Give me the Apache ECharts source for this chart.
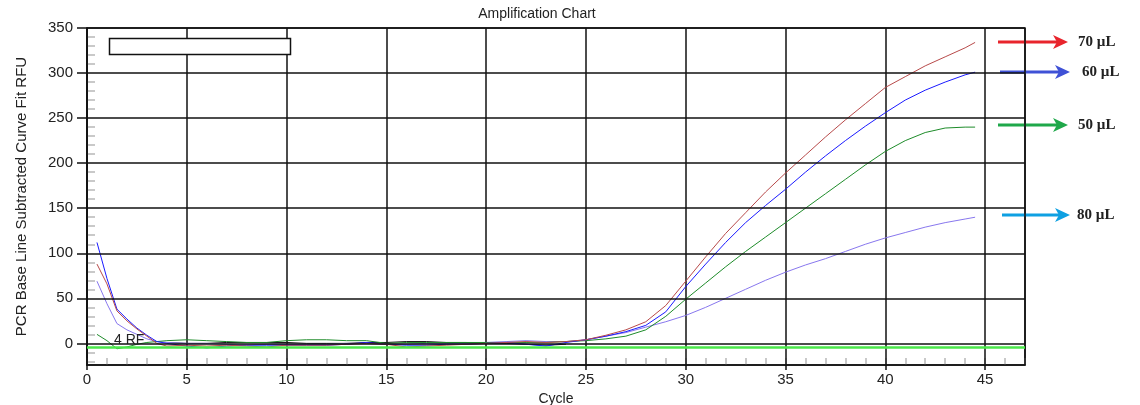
<!DOCTYPE html>
<html>
<head>
<meta charset="utf-8">
<script src="https://cdn.jsdelivr.net/npm/echarts@6/dist/echarts.min.js"></script>
<style>
  html, body { margin: 0; padding: 0; background: #fff; }
  #chart { width: 1140px; height: 405px; }
</style>
</head>
<body>
<div id="chart"></div>
<script>
// cycle positions of the sampled points
const cycles = [0.5, 1, 1.5, 2, 2.5, 3, 3.5,
  4, 5, 6, 7, 8, 9, 10, 11, 12, 13, 14, 15, 16, 17, 18, 19, 20, 21, 22, 23, 24,
  25, 26, 27, 28, 29, 30, 31, 32, 33, 34, 35, 36, 37, 38, 39, 40, 41, 42, 43, 44, 44.5]

const rfu70 = [88, 66, 36, 25, 16, 8, 0,
  -3, -2, -3, -2, -3, -4, -2, -2, -2, -1, 0, -1, -4, -3, -2, -1, 0, 1, 2, 1, 2,
  4, 9, 15, 24, 42, 69, 96, 122, 145, 168, 189, 209, 229, 248, 266, 284, 296, 308, 318, 328, 334]

const rfu60 = [112, 72, 38, 27, 17, 9, 2,
  0, -3, -5, -3, -2, -2, -2, -2, -2, -1, 1, -1, -2, -2, -1, -1, 0, 1, -1, -3, 1,
  4, 8, 13, 20, 35, 63, 88, 112, 134, 153, 171, 190, 208, 225, 241, 256, 270, 281, 290, 298, 301]

const rfu50 = [10, 3, -6, -4, -1, 1, 2,
  3, 4, 3, 2, 1, 1, 3, 4, 4, 3, 3, 0, 1, 1, 1, 1, 1, 1, 1, 1, 2,
  3, 5, 8, 15, 30, 49, 67, 85, 102, 118, 134, 150, 166, 182, 198, 213, 225, 234, 239, 240, 240]

const rfu80 = [69, 44, 22, 15, 10, 5, 2,
  1, 0, 0, -1, -2, -1, -1, -1, -1, 0, 0, -1, -1, 0, 0, 0, 1, 2, 3, 2, 2,
  4, 8, 12, 18, 24, 31, 40, 50, 60, 70, 79, 87, 94, 102, 110, 117, 123, 129, 134, 138, 140]

const rfuNtc = [null, null, null, null, null, null, null,
  1, 0, 0, 1, 1, 1, 1, 0, 0, 0, 1, 1, 2, 2, 1, 1, 0, 0, -1, -2, -1,
  null, null, null, null, null, null, null, null, null, null, null, null, null, null, null, null, null, null, null, null, null]

const threshold = -4

const volumeLabels = ['70 µL', '60 µL', '50 µL', '80 µL']
const arrowColors = ['#e8242c', '#3f51d6', '#1fa84a', '#0ea0e2']

// axis range and tick values
const yMin = -24
const yMax = 350
const yMajor = [0, 50, 100, 150, 200, 250, 300, 350]
const yMinor = [-20, -10, 10, 20, 30, 40, 60, 70, 80, 90, 110, 120, 130, 140, 160, 170, 180, 190,
  210, 220, 230, 240, 260, 270, 280, 290, 310, 320, 330, 340]
const xMin = 0
const xMax = 47

const pairs = (vals) => cycles.map((c, i) => [c, vals[i]])

const FONT = 'Liberation Sans'
const GRID_LINE = { color: '#111', width: 1.5, type: 'solid' }

function lineSeries(name, vals, color, extra) {
  return Object.assign({
    name: name,
    type: 'line',
    data: pairs(vals),
    showSymbol: false,
    connectNulls: false,
    lineStyle: { color: color, width: 1 },
    itemStyle: { color: color },
    z: 3
  }, extra || {})
}

// arrows + volume text on the right margin
const arrowRows = [
  { x1: 998, x2: 1068, y: 42, tx: 1078 },
  { x1: 1000, x2: 1070, y: 72, tx: 1082 },
  { x1: 998, x2: 1068, y: 125, tx: 1078 },
  { x1: 1002, x2: 1070, y: 215, tx: 1077 }
]
const arrowGraphics = []
arrowRows.forEach((r, i) => {
  arrowGraphics.push({
    type: 'line',
    shape: { x1: r.x1, y1: r.y, x2: r.x2 - 10, y2: r.y },
    style: { stroke: arrowColors[i], lineWidth: 3 }
  })
  arrowGraphics.push({
    type: 'polygon',
    shape: { points: [[r.x2 - 15, r.y - 7], [r.x2, r.y], [r.x2 - 15, r.y + 7], [r.x2 - 11, r.y]] },
    style: { fill: arrowColors[i] }
  })
  arrowGraphics.push({
    type: 'text',
    x: r.tx, y: r.y,
    style: {
      text: volumeLabels[i], fill: '#222',
      font: 'bold 15px "Liberation Serif"',
      textVerticalAlign: 'middle'
    }
  })
})

const chart = echarts.init(document.getElementById('chart'))
chart.setOption({
  animation: false,
  backgroundColor: '#fff',
  textStyle: { fontFamily: FONT },
  grid: {
    left: 87, right: 115, top: 28, bottom: 40,
    outerBoundsMode: 'none', containLabel: false,
    show: true, borderColor: '#111', borderWidth: 1.5, backgroundColor: 'transparent'
  },
  xAxis: [
    {
      type: 'value',
      min: xMin, max: xMax, interval: 5,
      name: 'Cycle', nameLocation: 'middle', nameGap: 24,
      nameTextStyle: { color: '#222', fontSize: 14, fontFamily: FONT },
      axisLine: { onZero: false, lineStyle: { color: '#111', width: 1.5 } },
      axisTick: { show: true, length: 5, lineStyle: { color: '#111', width: 1.5 } },
      axisLabel: { color: '#222', fontSize: 15, margin: 7, showMaxLabel: false, fontFamily: FONT },
      splitLine: { show: true, lineStyle: GRID_LINE },
      z: 2
    },
    {
      type: 'value',
      min: xMin, max: xMax, interval: 1,
      position: 'bottom', offset: 0,
      axisLine: { show: false, onZero: false },
      axisTick: { show: true, inside: true, length: 7, lineStyle: { color: '#b8b8b8', width: 1.5 } },
      axisLabel: { show: false },
      splitLine: { show: false },
      z: 1
    }
  ],
  yAxis: [
    {
      type: 'value',
      min: yMin, max: yMax,
      name: 'PCR Base Line Subtracted Curve Fit RFU', nameLocation: 'middle', nameGap: 58,
      nameTextStyle: { color: '#222', fontSize: 15, fontFamily: FONT },
      axisLine: { show: true, onZero: false, lineStyle: { color: '#111', width: 1.5 } },
      axisTick: { show: true, length: 10, customValues: yMajor, lineStyle: { color: '#111', width: 1.5 } },
      axisLabel: { color: '#222', fontSize: 15, margin: 14, customValues: yMajor, fontFamily: FONT },
      splitLine: { show: false },
      z: 2
    },
    {
      type: 'value',
      min: yMin, max: yMax,
      position: 'left', offset: 0,
      axisLine: { show: false, onZero: false },
      axisTick: { show: true, inside: true, length: 8, customValues: yMinor, lineStyle: { color: '#b8b8b8', width: 1.5 } },
      axisLabel: { show: false },
      splitLine: { show: false },
      z: 1
    }
  ],
  series: [
    // horizontal major grid lines on the y tick values
    {
      type: 'line', data: [], silent: true, z: 2,
      markLine: {
        silent: true, symbol: 'none', animation: false,
        label: { show: false },
        lineStyle: GRID_LINE,
        data: yMajor.map(v => ({ yAxis: v }))
      }
    },
    lineSeries('NTC', rfuNtc, '#111'),
    lineSeries('80 µL', rfu80, '#8877ee'),
    lineSeries('50 µL', rfu50, '#1e8c2a'),
    lineSeries('60 µL', rfu60, '#1a1aff'),
    lineSeries('70 µL', rfu70, '#b84a4a', {
      markLine: {
        silent: true,
        symbol: 'none',
        label: { show: false },
        lineStyle: { color: '#4be84b', width: 2.5, type: 'solid' },
        data: [{ yAxis: threshold }]
      }
    })
  ],
  graphic: [
    {
      type: 'text', x: 537, y: 14,
      style: { text: 'Amplification Chart', fill: '#222', font: '14px "Liberation Sans"', textAlign: 'center', textVerticalAlign: 'middle' }
    },
    {
      type: 'rect', shape: { x: 109.5, y: 38.5, width: 181, height: 16 },
      style: { fill: '#fff', stroke: '#111', lineWidth: 1.5 }, z: 10
    },
    {
      type: 'text', x: 114, y: 340,
      style: { text: '4 RF', fill: '#222', font: '14px "Liberation Sans"', textVerticalAlign: 'middle' }, z: 10
    }
  ].concat(arrowGraphics)
})
</script>
</body>
</html>
